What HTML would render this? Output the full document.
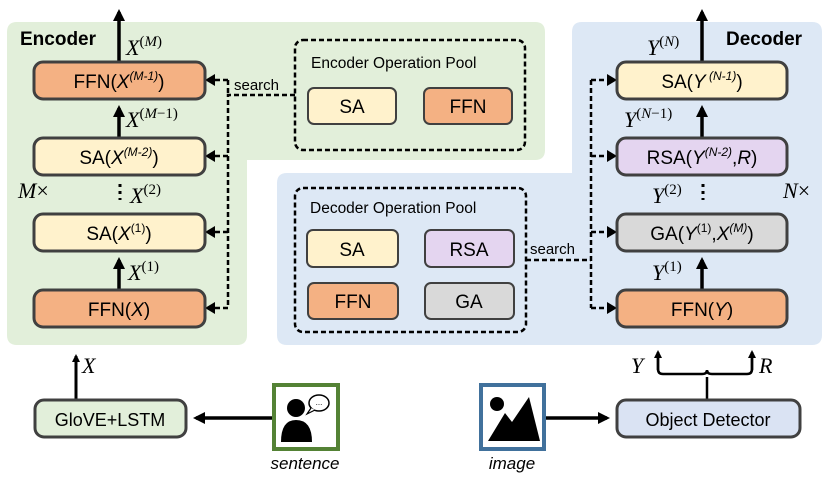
<!DOCTYPE html>
<html><head><meta charset="utf-8"><style>
html,body{margin:0;padding:0;background:#fff;width:830px;height:478px;overflow:hidden}
svg{display:block}
text{font-family:"Liberation Sans",sans-serif}
.m text{font-family:"Liberation Serif",serif;font-style:italic}
</style></head><body>
<svg width="830" height="478" viewBox="0 0 830 478" xmlns="http://www.w3.org/2000/svg">
<defs>
<marker id="a" markerWidth="8" markerHeight="8" refX="6" refY="4" orient="auto" markerUnits="userSpaceOnUse"><path d="M0,0 L8,4 L0,8 Z" fill="#000"/></marker>
<marker id="b" markerWidth="12" markerHeight="12" refX="9" refY="6" orient="auto" markerUnits="userSpaceOnUse"><path d="M0,0 L12,6 L0,12 Z" fill="#000"/></marker>
</defs>
<path d="M17,22 H535 Q545,22 545,32 V150 Q545,160 535,160 H247 V335 Q247,345 237,345 H17 Q7,345 7,335 V32 Q7,22 17,22 Z" fill="#e2efda"/>
<path d="M582,22 H812 Q822,22 822,32 V335 Q822,345 812,345 H287 Q277,345 277,335 V183 Q277,173 287,173 H572 V32 Q572,22 582,22 Z" fill="#dde8f5"/>
<text x="20" y="45" font-size="19" font-weight="bold">Encoder</text>
<text x="726" y="45" font-size="19" font-weight="bold">Decoder</text>

<g stroke="#000" stroke-width="3.5" fill="none">
<line x1="119" y1="62" x2="119" y2="12" marker-end="url(#b)"/>
<line x1="119" y1="138" x2="119" y2="108" marker-end="url(#b)"/>
<line x1="119" y1="290" x2="119" y2="260" marker-end="url(#b)"/>
<line x1="702" y1="62" x2="702" y2="12" marker-end="url(#b)"/>
<line x1="702" y1="138" x2="702" y2="108" marker-end="url(#b)"/>
<line x1="702" y1="290" x2="702" y2="260" marker-end="url(#b)"/>
<line x1="76" y1="400" x2="76" y2="356" stroke-width="3" marker-end="url(#a)"/>
<line x1="272" y1="418" x2="196" y2="418" marker-end="url(#b)"/>
<line x1="546" y1="418" x2="607" y2="418" marker-end="url(#b)"/>
<line x1="707" y1="400" x2="707" y2="377" stroke-width="2.5"/>
<path d="M658,357 V369 Q658,374 663,374 H702 Q707,374 707,370 Q707,374 712,374 H747 Q752,374 752,369 V357" stroke-width="2.5"/>
<line x1="658" y1="370" x2="658" y2="352" stroke-width="2.5" marker-end="url(#a)"/>
<line x1="752" y1="370" x2="752" y2="352" stroke-width="2.5" marker-end="url(#a)"/>
</g>
<line x1="120" y1="184" x2="120" y2="200" stroke="#000" stroke-width="3" stroke-dasharray="3,4"/>
<line x1="703" y1="184" x2="703" y2="200" stroke="#000" stroke-width="3" stroke-dasharray="3,4"/>

<g stroke="#000" stroke-width="2.5" fill="none" stroke-dasharray="5,3">
<path d="M295,95 H228 V308"/>
<path d="M228,80 V95"/>
<path d="M228,80 H212"/><path d="M228,156 H212"/><path d="M228,232 H212"/><path d="M228,308 H212"/>
<path d="M526,260 H591"/>
<path d="M591,80 V308"/>
<path d="M591,80 H608"/><path d="M591,156 H608"/><path d="M591,232 H608"/><path d="M591,308 H608"/>
<rect x="295" y="40" width="230" height="110" rx="8"/>
<rect x="295" y="188" width="231" height="144" rx="8"/>
</g>
<g fill="#000">
<path d="M205,80 l10,-6 v12 z"/><path d="M205,156 l10,-6 v12 z"/><path d="M205,232 l10,-6 v12 z"/><path d="M205,308 l10,-6 v12 z"/>
<path d="M617,80 l-10,-6 v12 z"/><path d="M617,156 l-10,-6 v12 z"/><path d="M617,232 l-10,-6 v12 z"/><path d="M617,308 l-10,-6 v12 z"/>
</g>
<text x="234" y="90" font-size="15">search</text>
<text x="530" y="254" font-size="15">search</text>
<text x="311" y="68" font-size="15.5">Encoder Operation Pool</text>
<text x="310" y="213" font-size="15.5">Decoder Operation Pool</text>

<g stroke="#404040" stroke-width="3">
<rect x="34" y="62" width="171" height="37" rx="9" fill="#f4b183"/>
<rect x="34" y="138" width="171" height="37" rx="9" fill="#fff2cc"/>
<rect x="34" y="214" width="171" height="37" rx="9" fill="#fff2cc"/>
<rect x="34" y="290" width="171" height="37" rx="9" fill="#f4b183"/>
<rect x="617" y="62" width="170" height="37" rx="9" fill="#fff2cc"/>
<rect x="617" y="138" width="170" height="37" rx="9" fill="#e4d5f0"/>
<rect x="617" y="214" width="170" height="37" rx="9" fill="#d9d9d9"/>
<rect x="617" y="290" width="170" height="37" rx="9" fill="#f4b183"/>
<rect x="308" y="88" width="88" height="36" rx="6" fill="#fff2cc" stroke-width="2"/>
<rect x="424" y="88" width="88" height="36" rx="6" fill="#f4b183" stroke-width="2"/>
<rect x="307" y="230" width="91" height="37" rx="6" fill="#fff2cc" stroke-width="2"/>
<rect x="425" y="230" width="89" height="37" rx="6" fill="#e4d5f0" stroke-width="2"/>
<rect x="308" y="283" width="90" height="36" rx="6" fill="#f4b183" stroke-width="2"/>
<rect x="425" y="283" width="89" height="36" rx="6" fill="#d9d9d9" stroke-width="2"/>
<rect x="35" y="400" width="151" height="37" rx="9" fill="#e2efda"/>
<rect x="617" y="400" width="183" height="37" rx="9" fill="#dae3f3"/>
</g>
<g font-size="19" text-anchor="middle">
<text x="119" y="88">FFN(<tspan font-style="italic">X</tspan><tspan font-size="12" dy="-8" font-style="italic">(M-1)</tspan><tspan dy="8">)</tspan></text>
<text x="119" y="164">SA(<tspan font-style="italic">X</tspan><tspan font-size="12" dy="-8" font-style="italic">(M-2)</tspan><tspan dy="8">)</tspan></text>
<text x="119" y="240">SA(<tspan font-style="italic">X</tspan><tspan font-size="12" dy="-8">(1)</tspan><tspan dy="8">)</tspan></text>
<text x="119" y="316">FFN(<tspan font-style="italic">X</tspan>)</text>
<text x="702" y="88">SA(<tspan font-style="italic">Y</tspan><tspan font-size="12" dy="-8" font-style="italic"> (N-1)</tspan><tspan dy="8">)</tspan></text>
<text x="702" y="164">RSA(<tspan font-style="italic">Y</tspan><tspan font-size="12" dy="-8" font-style="italic">(N-2)</tspan><tspan dy="8">,</tspan><tspan font-style="italic">R</tspan>)</text>
<text x="702" y="240">GA(<tspan font-style="italic">Y</tspan><tspan font-size="12" dy="-8">(1)</tspan><tspan dy="8">,</tspan><tspan font-style="italic">X</tspan><tspan font-size="12" dy="-8" font-style="italic">(M)</tspan><tspan dy="8">)</tspan></text>
<text x="702" y="316">FFN(<tspan font-style="italic">Y</tspan>)</text>
<text x="352" y="113">SA</text><text x="468" y="113">FFN</text>
<text x="352" y="256">SA</text><text x="469" y="256">RSA</text>
<text x="353" y="308">FFN</text><text x="469" y="308">GA</text>
<text x="110" y="426" font-size="18">GloVE+LSTM</text>
<text x="708" y="426" font-size="18">Object Detector</text>
</g>
<g class="m" font-size="22">
<text x="126" y="55">X<tspan font-size="15" font-style="normal" dy="-9">(<tspan font-style="italic">M</tspan>)</tspan></text>
<text x="126" y="127">X<tspan font-size="15" font-style="normal" dy="-9">(<tspan font-style="italic">M</tspan>−1)</tspan></text>
<text x="130" y="203">X<tspan font-size="15" font-style="normal" dy="-9">(2)</tspan></text>
<text x="128" y="280">X<tspan font-size="15" font-style="normal" dy="-9">(1)</tspan></text>
<text x="18" y="198">M<tspan font-style="normal">×</tspan></text>
<text x="647" y="55">Y<tspan font-size="15" font-style="normal" dy="-9">(<tspan font-style="italic">N</tspan>)</tspan></text>
<text x="624" y="127">Y<tspan font-size="15" font-style="normal" dy="-9">(<tspan font-style="italic">N</tspan>−1)</tspan></text>
<text x="652" y="203">Y<tspan font-size="15" font-style="normal" dy="-9">(2)</tspan></text>
<text x="652" y="280">Y<tspan font-size="15" font-style="normal" dy="-9">(1)</tspan></text>
<text x="783" y="198">N<tspan font-style="normal">×</tspan></text>
<text x="82" y="373">X</text>
<text x="631" y="373">Y</text>
<text x="759" y="373">R</text>
</g>
<rect x="274" y="385" width="64" height="64" fill="#fff" stroke="#548235" stroke-width="4"/>
<circle cx="296" cy="408" r="9" fill="#000"/>
<path d="M281,442 Q281,420 296,420 Q312,420 312,442 Z" fill="#000"/>
<ellipse cx="319" cy="403" rx="10" ry="8" fill="#fff" stroke="#000" stroke-width="1.5"/>
<path d="M311,408 L307,414 L315,410" fill="#fff" stroke="#000" stroke-width="1.2"/>
<text x="319" y="405" font-size="8" text-anchor="middle">...</text>
<text x="305" y="469" font-size="17" font-style="italic" text-anchor="middle">sentence</text>
<rect x="481" y="385" width="63" height="64" fill="#fff" stroke="#41719c" stroke-width="4"/>
<circle cx="497" cy="404" r="7" fill="#000"/>
<path d="M488,441 L505,413 L512,422 L529,397 L540,441 Z" fill="#000"/>
<text x="512" y="469" font-size="17" font-style="italic" text-anchor="middle">image</text>
</svg>
</body></html>
